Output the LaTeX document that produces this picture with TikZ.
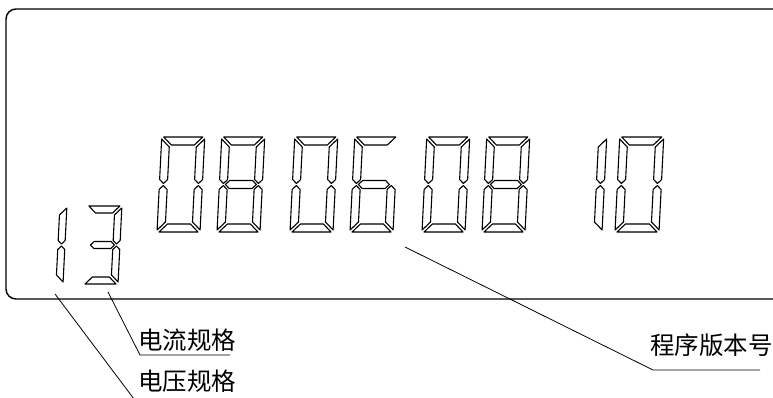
\documentclass[tikz,border=0pt]{standalone}
\usepackage{fontspec}
\newfontfamily\cjk{Noto Sans CJK SC}
\tikzset{
  lcd/.style={draw=black, line width=1.1pt, line join=round},
  frame/.style={draw=black, line width=1.4pt, rounded corners=10pt},
  leader/.style={draw=black, line width=0.8pt},
  lab/.style={font=\cjk\fontsize{24.5pt}{24.5pt}\selectfont, inner sep=0pt, anchor=base west},
}
% seven-segment pieces in local coordinates (u right, v up)
\newcommand\SegA{\path[lcd] (2,\dgh) -- (\dgw-2,\dgh) -- (\dgw-2-\dgt,\dgh-\dgt) -- (2+\dgt,\dgh-\dgt) -- cycle;}
\newcommand\SegD{\path[lcd] (2,0) -- (\dgw-2,0) -- (\dgw-2-\dgt,\dgt) -- (2+\dgt,\dgt) -- cycle;}
\newcommand\SegF{\path[lcd] (0,\dgh-2) -- (\dgt,\dgh-2-\dgt) -- (\dgt,\dgh/2+1+\dgt/2) -- (\dgt/2,\dgh/2+1) -- (0,\dgh/2+1+\dgt/2) -- cycle;}
\newcommand\SegB{\path[lcd] (\dgw,\dgh-2) -- (\dgw-\dgt,\dgh-2-\dgt) -- (\dgw-\dgt,\dgh/2+1+\dgt/2) -- (\dgw-\dgt/2,\dgh/2+1) -- (\dgw,\dgh/2+1+\dgt/2) -- cycle;}
\newcommand\SegE{\path[lcd] (0,2) -- (\dgt,2+\dgt) -- (\dgt,\dgh/2-1-\dgt/2) -- (\dgt/2,\dgh/2-1) -- (0,\dgh/2-1-\dgt/2) -- cycle;}
\newcommand\SegC{\path[lcd] (\dgw,2) -- (\dgw-\dgt,2+\dgt) -- (\dgw-\dgt,\dgh/2-1-\dgt/2) -- (\dgw-\dgt/2,\dgh/2-1) -- (\dgw,\dgh/2-1-\dgt/2) -- cycle;}
\newcommand\SegG{\path[lcd] (\dgt/2+2,\dgh/2) -- (\dgt+2,\dgh/2+\dgt/2) -- (\dgw-\dgt-2,\dgh/2+\dgt/2) -- (\dgw-\dgt/2-2,\dgh/2) -- (\dgw-\dgt-2,\dgh/2-\dgt/2) -- (\dgt+2,\dgh/2-\dgt/2) -- cycle;}
% #1 x of bottom-left, #2 y (image) of bottom, #3 width, #4 height, #5 thickness, #6 slant, #7 segments
\newcommand\lcddigit[7]{%
  \begin{scope}[shift={(#1pt,-#2pt)}, x={(1pt,0pt)}, y={(#6pt,1pt)}]
    \def\dgw{#3}\def\dgh{#4}\def\dgt{#5}%
    \foreach \s in {#7}{\csname Seg\s\endcsname}
  \end{scope}}
\begin{document}
\begin{tikzpicture}[x=1pt, y=-1pt]
  \useasboundingbox (0,0) rectangle (773,398);
  \clip (0,0) rectangle (773,398);
  % display frame
  \path[frame] (800,9) -- (6,9) -- (6,299) -- (800,299);
  % big digits 0806 08 10
  \lcddigit{157}{232}{43}{95}{8}{0.05}{A,B,C,D,E,F}
  \lcddigit{217}{232}{43}{95}{8}{0.05}{A,B,C,D,E,F,G}
  \lcddigit{290}{232}{43}{95}{8}{0.05}{A,B,C,D,E,F}
  \lcddigit{350}{232}{43}{95}{8}{0.05}{A,C,D,E,F,G}
  \lcddigit{422}{232}{43}{95}{8}{0.05}{A,B,C,D,E,F}
  \lcddigit{482}{232}{43}{95}{8}{0.05}{A,B,C,D,E,F,G}
  \lcddigit{559}{232}{43}{95}{8}{0.05}{B,C}
  \lcddigit{615}{232}{44}{95}{8}{0.05}{A,B,C,D,E,F}
  % small digits 13
  \lcddigit{28}{284}{35}{78}{7}{0.05}{B,C}
  \lcddigit{83}{284}{35}{78}{7}{0.05}{A,B,C,D,G}
  % labels
  \node[lab] (cur) at (138,349) {电流规格};
  \node[lab] (vol) at (138,390) {电压规格};
  \node[lab] (ver) at (650,354) {程序版本号};
  % leader points
  \coordinate (p1) at (55,294);
  \coordinate (p3) at (108,292);
  \coordinate (pv) at (405,247);
  \coordinate (curL) at (140,355);
  \coordinate (curR) at (230,355);
  \coordinate (volE) at (137,403);
  \coordinate (verL) at (653,370);
  \coordinate (verR) at (760,370);
  \draw[leader] (p3) -- (curL) -- (curR);
  \draw[leader] (p1) -- (volE);
  \draw[leader] (pv) -- (verL) -- (verR);
\end{tikzpicture}
\end{document}
